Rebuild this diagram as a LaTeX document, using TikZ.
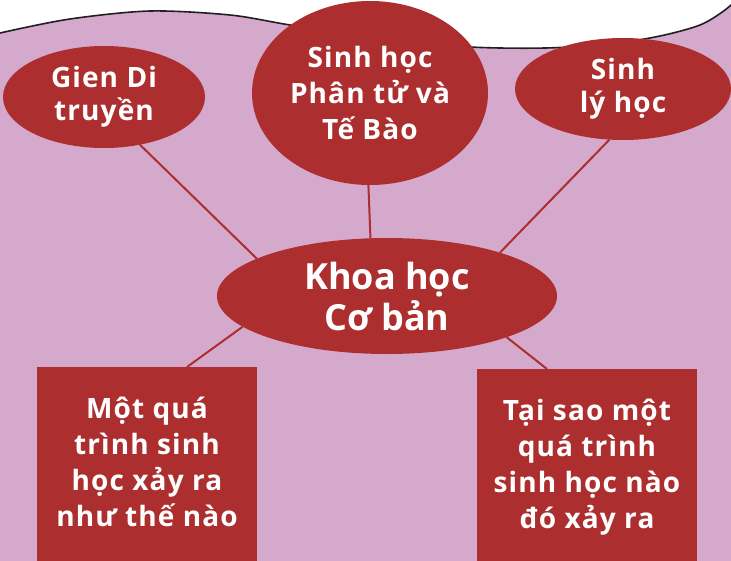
\documentclass[tikz,border=0pt]{standalone}
\usepackage{fontspec}
\setmainfont{Open Sans}
\newfontfamily\spacedsans{Open Sans}[LetterSpace=4]
\usetikzlibrary{shapes.geometric}
\definecolor{bgpink}{RGB}{212,169,204}
\definecolor{topicred}{RGB}{173,46,46}
\definecolor{edgegray}{RGB}{35,31,32}
\newcommand{\boxtext}[1]{\parbox[t][220pt][t]{220pt}{\centering\rule{0pt}{51pt}#1}}
\begin{document}
\begin{tikzpicture}[x=1pt, y=-1pt,
  topic/.style={ellipse, fill=topicred, text=white, inner sep=0, outer sep=0, align=center, font=\spacedsans\bfseries\fontsize{28}{33}\selectfont},
  question/.style={rectangle, fill=topicred, text=white, inner sep=0, outer sep=0, anchor=north, font=\spacedsans\bfseries\fontsize{28}{36}\selectfont},
  link/.style={topicred, line width=2pt}]
\clip (0,0) rectangle (731,560);
\fill[white] (0,0) rectangle (731,560);
% paper with wavy top
\fill[bgpink] plot[smooth] coordinates {(-5,36) (0,33) (70,19) (150,11) (230,15) (290,25) (380,39) (470,47) (545,48) (610,44) (660,36) (700,25) (725,10) (745,-8)} -- (745,570) -- (-5,570) -- cycle;
\draw[edgegray, line width=1.6pt] plot[smooth] coordinates {(-5,36) (0,33) (70,19) (150,11) (230,15) (290,25) (380,39) (470,47) (545,48) (610,44) (660,36) (700,25) (725,10) (745,-8)};

\node[topic, minimum width=202pt, minimum height=102pt] (gen) at (104,97) {Gien Di\\truyền};
\node[topic, minimum width=236pt, minimum height=184pt, font=\spacedsans\bfseries\fontsize{28}{36}\selectfont] (cell) at (370,93) {Sinh học\\Phân tử và\\Tế Bào};
\node[topic, minimum width=216pt, minimum height=102pt] (phys) at (623,89) {Sinh\\lý học};
\node[topic, minimum width=340pt, minimum height=116pt, font=\rmfamily\bfseries\fontsize{36}{41}\selectfont] (core) at (387,296) {Khoa học\\Cơ bản};
\node[question] (how) at (147,367) {\boxtext{Một quá\\trình sinh\\học xảy ra\\như thế nào}};
\node[question] (why) at (587,369) {\boxtext{Tại sao một\\quá trình\\sinh học nào\\đó xảy ra}};

\draw[link] (gen.-53) -- (core.164);
\draw[link] (cell.269) -- (core.106);
\draw[link] (phys.255) -- (core.21);
\draw[link] (core.192) -- ([xshift=40pt]how.north);
\draw[link] (core.-19) -- ([xshift=-40pt]why.north);
\end{tikzpicture}
\end{document}
